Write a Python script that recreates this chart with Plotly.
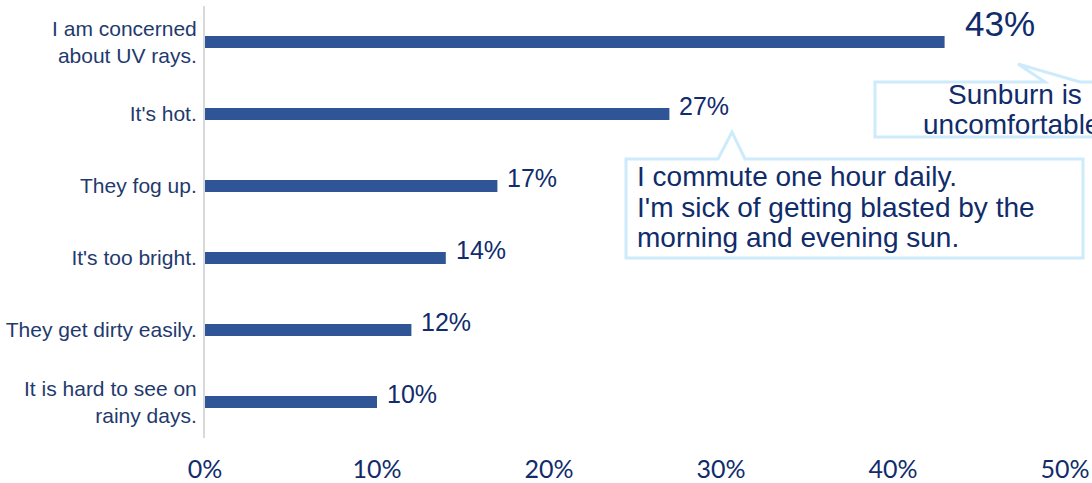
import plotly.graph_objects as go

categories = [
    "I am concerned<br>about UV rays.",
    "It's hot.",
    "They fog up.",
    "It's too bright.",
    "They get dirty easily.",
    "It is hard to see on<br>rainy days.",
]
values = [43, 27, 17, 14, 12, 10]
x_ticks = [0, 10, 20, 30, 40, 50]
x_tick_labels = ["0%", "10%", "20%", "30%", "40%", "50%"]

comment_commute = [
    "I commute one hour daily.",
    "I'm sick of getting blasted by the",
    "morning and evening sun.",
]
comment_sunburn = ["Sunburn is", "uncomfortable."]

BAR = "#2F5597"
NAVY = "#102C6B"
LABEL = "#1F3A6E"
CALLOUT = "#CDEBFB"

W, H = 1092, 483
ML, MR, MT, MB = 205, 27, 6, 45
PW, PH = W - ML - MR, H - MT - MB


def px(x):
    return (x - ML) / PW


def py(y):
    return (H - MB - y) / PH


fig = go.Figure(
    go.Bar(
        x=values,
        y=categories,
        orientation="h",
        width=0.17,
        marker=dict(color=BAR, line=dict(width=0)),
        hoverinfo="skip",
    )
)

top = max(values)
for c, v in zip(categories, values):
    big = v == top
    fig.add_annotation(
        x=v, y=c, xref="x", yref="y",
        text=f"{v}%", showarrow=False,
        xanchor="left", yanchor="middle",
        xshift=18 if big else 8, yshift=19 if big else 8,
        font=dict(family="Arial, Liberation Sans", size=35 if big else 25, color=NAVY),
    )

# callout 1 (commute)
x0, x1, yt, yb = px(626), px(1083), py(159), py(258)
bl, br, tx, ty = px(718), px(745), px(732), py(132)
fig.add_shape(
    type="path", xref="paper", yref="paper",
    path=f"M{x0},{yt} L{bl},{yt} L{tx},{ty} L{br},{yt} L{x1},{yt} L{x1},{yb} L{x0},{yb} Z",
    line=dict(color=CALLOUT, width=3), fillcolor="white", layer="above",
)
for i, line in enumerate(comment_commute):
    fig.add_annotation(
        x=px(635), y=py(176 + 31 * i), xref="paper", yref="paper",
        text=line, showarrow=False, xanchor="left", yanchor="middle",
        font=dict(family="Arial, Liberation Sans", size=28, color=NAVY),
    )

# callout 2 (sunburn)
x0, x1, yt, yb = px(875), px(1155), py(82), py(137)
bl, br, tx, ty = px(1045), px(1080), px(1018), py(64)
fig.add_shape(
    type="path", xref="paper", yref="paper",
    path=f"M{x0},{yt} L{bl},{yt} L{tx},{ty} L{br},{yt} L{x1},{yt} L{x1},{yb} L{x0},{yb} Z",
    line=dict(color=CALLOUT, width=3), fillcolor="white", layer="above",
)
for i, line in enumerate(comment_sunburn):
    fig.add_annotation(
        x=px(1015), y=py(94 + 31 * i), xref="paper", yref="paper",
        text=line, showarrow=False, xanchor="center", yanchor="middle",
        font=dict(family="Arial, Liberation Sans", size=28, color=NAVY),
    )

fig.update_layout(
    width=W, height=H,
    margin=dict(l=ML, r=MR, t=MT, b=MB, pad=0, autoexpand=False),
    plot_bgcolor="white", paper_bgcolor="white",
    showlegend=False,
    xaxis=dict(
        range=[0, 50], tickvals=x_ticks, ticktext=x_tick_labels,
        showgrid=False, zeroline=False, showline=False, ticks="",
        tickfont=dict(family="Lato, Arial", size=25, color=NAVY),
        ticklabelstandoff=14, automargin=False,
    ),
    yaxis=dict(
        range=[5.5, -0.5], autorange=False,
        showgrid=False, zeroline=False,
        showline=True, linecolor="#D9D9D9", linewidth=2,
        ticks="", ticklabelstandoff=2, automargin=False,
        tickfont=dict(family="Arial, Liberation Sans", size=21, color=LABEL),
    ),
)

fig.write_html("out.html")
